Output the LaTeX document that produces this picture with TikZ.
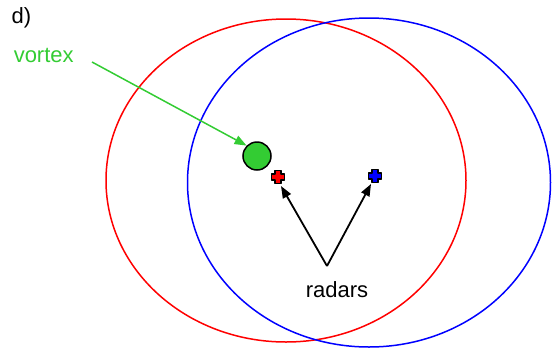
\documentclass[tikz,border=0pt]{standalone}
\usepackage{fontspec}
\setmainfont{Liberation Sans}
\usetikzlibrary{arrows.meta, positioning}
\definecolor{vortexgreen}{RGB}{51,204,51}
\definecolor{radarred}{RGB}{255,0,0}
\definecolor{radarblue}{RGB}{0,0,255}
\tikzset{
  lbl/.style={font=\fontsize{22}{26}\selectfont, inner sep=0pt},
  pointer/.style={-{Triangle[length=12pt,width=9pt]}},
}
\newcommand{\radarcross}[2]{% position, colour
  \draw[black, line width=1.8pt, line join=round, fill=#2, shift={#1}]
    (-3,-6.5) -- (3,-6.5) -- (3,-3) -- (6.5,-3) -- (6.5,3) -- (3,3) -- (3,6.5)
    -- (-3,6.5) -- (-3,3) -- (-6.5,3) -- (-6.5,-3) -- (-3,-3) -- cycle;}

\begin{document}
\begin{tikzpicture}[x=1pt, y=-1pt, line width=1.5pt]
  \useasboundingbox (0,0) rectangle (552,349);
  % coverage of each radar
  \draw[radarred] (286,180.5) ellipse [x radius=180, y radius=161.5];
  \draw[radarblue] (369,182.5) ellipse [x radius=181.5, y radius=164.5];
  % vortex and radars
  \node[circle, draw=black, fill=vortexgreen, line width=1.5pt, minimum size=28pt, inner sep=0pt] (vortex) at (257,156) {};
  \coordinate (redradar) at (278,177);
  \coordinate (blueradar) at (375,176);
  \radarcross{(redradar)}{radarred}
  \radarcross{(blueradar)}{radarblue}
  % labels
  \node[lbl, anchor=west] (panel) at (11,18) {d)};
  \node[lbl, anchor=west, text=vortexgreen] (vortexlbl) at (13,55) {vortex};
  \node[lbl] (radarslbl) at (337,290) {radars};
  \coordinate (apex) at (327,266);
  % pointers
  \draw[pointer, vortexgreen] (92,62) -- (vortex.north west);
  \draw[pointer, black, line width=1.8pt] (apex) -- ([shift={(3,9)}]redradar);
  \draw[pointer, black, line width=1.8pt] (apex) -- ([shift={(-4,8)}]blueradar);
\end{tikzpicture}
\end{document}
